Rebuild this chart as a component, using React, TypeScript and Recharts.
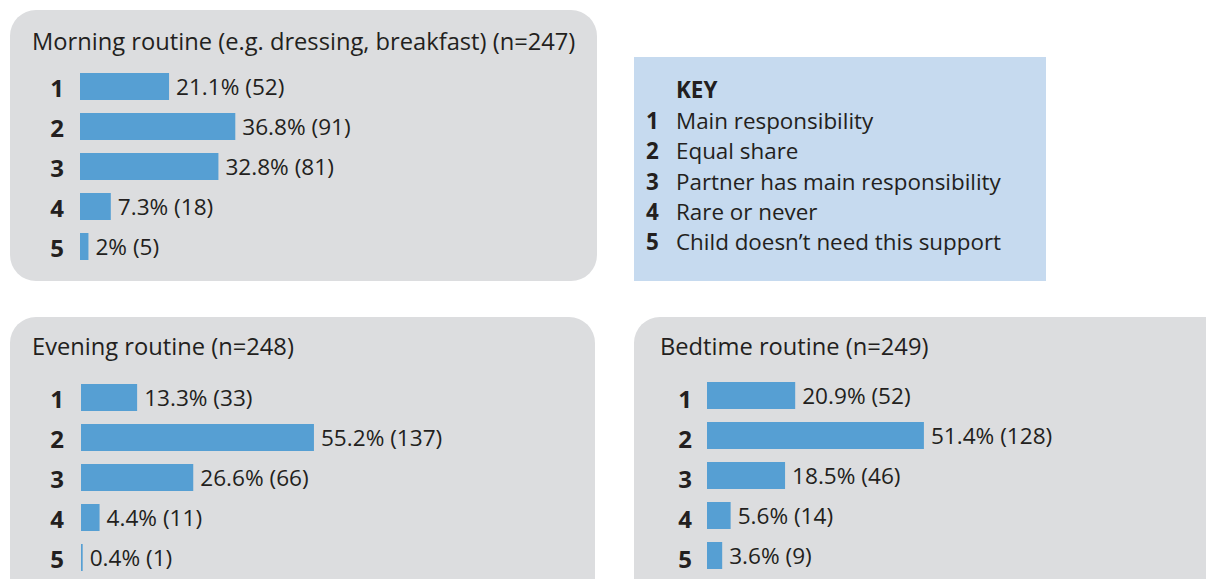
import React from "react";
import { BarChart, Bar, XAxis, YAxis, LabelList } from "recharts";

const categories = ["1", "2", "3", "4", "5"];
const morningPct = [21.1, 36.8, 32.8, 7.3, 2];
const morningN = [52, 91, 81, 18, 5];
const eveningPct = [13.3, 55.2, 26.6, 4.4, 0.4];
const eveningN = [33, 137, 66, 11, 1];
const bedtimePct = [20.9, 51.4, 18.5, 5.6, 3.6];
const bedtimeN = [52, 128, 46, 14, 9];
const keyLabels = [
  "Main responsibility",
  "Equal share",
  "Partner has main responsibility",
  "Rare or never",
  "Child doesn\u2019t need this support",
];

const FONT = "'Open Sans', 'Noto Sans', sans-serif";
const TEXT = "#231f20";
const BAR = "#569fd3";
const GRAY = "#dcdddf";
const KEYBG = "#c6daef";

function build(pct: number[], n: number[]) {
  return categories.map((c, i) => ({
    cat: c,
    value: pct[i],
    label: `${pct[i]}% (${n[i]})`,
  }));
}

type PanelProps = {
  boxLeft: number;
  boxTop: number;
  boxWidth: number;
  boxHeight: number;
  title: string;
  titleLeft: number;
  titleTop: number;
  chartTop: number;
  barLeft: number;
  numX: number;
  numDy: number;
  chartWidth: number;
  pct: number[];
  n: number[];
};

function Panel(p: PanelProps) {
  const data = build(p.pct, p.n);
  const yw = p.barLeft - p.boxLeft;
  const plotW = 422;
  const rightM = p.chartWidth - yw - plotW;
  const Tick = (props: any) => (
    <text
      x={p.numX - p.boxLeft}
      y={props.y + p.numDy}
      textAnchor="middle"
      dominantBaseline="central"
      fontFamily={FONT}
      fontWeight={700}
      fontSize={24}
      fill={TEXT}
    >
      {props.payload.value}
    </text>
  );
  return (
    <>
      <div
        style={{
          position: "absolute",
          left: p.boxLeft,
          top: p.boxTop,
          width: p.boxWidth,
          height: p.boxHeight,
          background: GRAY,
          borderRadius: 26,
        }}
      />
      <div
        style={{
          position: "absolute",
          left: p.titleLeft,
          top: p.titleTop,
          fontFamily: FONT,
          fontSize: 23.7,
          lineHeight: "26px",
          color: TEXT,
          whiteSpace: "nowrap",
        }}
      >
        {p.title}
      </div>
      <div style={{ position: "absolute", left: p.boxLeft, top: p.chartTop }}>
        <BarChart
          width={p.chartWidth}
          height={200}
          data={data}
          layout="vertical"
          margin={{ top: 0, right: rightM, bottom: 0, left: 0 }}
        >
          <XAxis type="number" domain={[0, 100]} hide />
          <YAxis
            type="category"
            dataKey="cat"
            width={yw}
            axisLine={false}
            tickLine={false}
            tick={Tick}
            interval={0}
          />
          <Bar dataKey="value" fill={BAR} barSize={27} isAnimationActive={false}>
            <LabelList
              dataKey="label"
              position="right"
              offset={7}
              fill={TEXT}
              fontFamily={FONT}
              fontSize={22.6}
            />
          </Bar>
        </BarChart>
      </div>
    </>
  );
}

export default function App() {
  return (
    <div
      style={{
        position: "absolute",
        left: 0,
        top: 0,
        width: 1206,
        height: 579,
        overflow: "hidden",
        background: "#ffffff",
      }}
    >
      <Panel
        boxLeft={10}
        boxTop={10}
        boxWidth={587}
        boxHeight={271}
        title="Morning routine (e.g. dressing, breakfast) (n=247)"
        titleLeft={32}
        titleTop={28}
        chartTop={66}
        barLeft={80}
        numX={57}
        numDy={1}
        chartWidth={587}
        pct={morningPct}
        n={morningN}
      />
      <Panel
        boxLeft={10}
        boxTop={317}
        boxWidth={585}
        boxHeight={300}
        title="Evening routine (n=248)"
        titleLeft={32}
        titleTop={333}
        chartTop={377}
        barLeft={81}
        numX={57}
        numDy={1}
        chartWidth={585}
        pct={eveningPct}
        n={eveningN}
      />
      <Panel
        boxLeft={634}
        boxTop={317}
        boxWidth={620}
        boxHeight={300}
        title="Bedtime routine (n=249)"
        titleLeft={660}
        titleTop={333}
        chartTop={374.5}
        barLeft={707}
        numX={685}
        numDy={3}
        chartWidth={572}
        pct={bedtimePct}
        n={bedtimeN}
      />
      <div
        style={{
          position: "absolute",
          left: 634,
          top: 57,
          width: 412,
          height: 224,
          background: KEYBG,
          fontFamily: FONT,
          color: TEXT,
          fontSize: 22.4,
        }}
      >
        <div
          style={{
            position: "absolute",
            left: 42,
            top: 20,
            fontWeight: 700,
            lineHeight: "26px",
          }}
        >
          KEY
        </div>
        {keyLabels.map((k, i) => (
          <div
            key={k}
            style={{
              position: "absolute",
              left: 12,
              top: 51 + i * 30.3,
              lineHeight: "26px",
              whiteSpace: "nowrap",
            }}
          >
            <span style={{ fontWeight: 700, display: "inline-block", width: 30 }}>
              {categories[i]}
            </span>
            <span>{k}</span>
          </div>
        ))}
      </div>
    </div>
  );
}
